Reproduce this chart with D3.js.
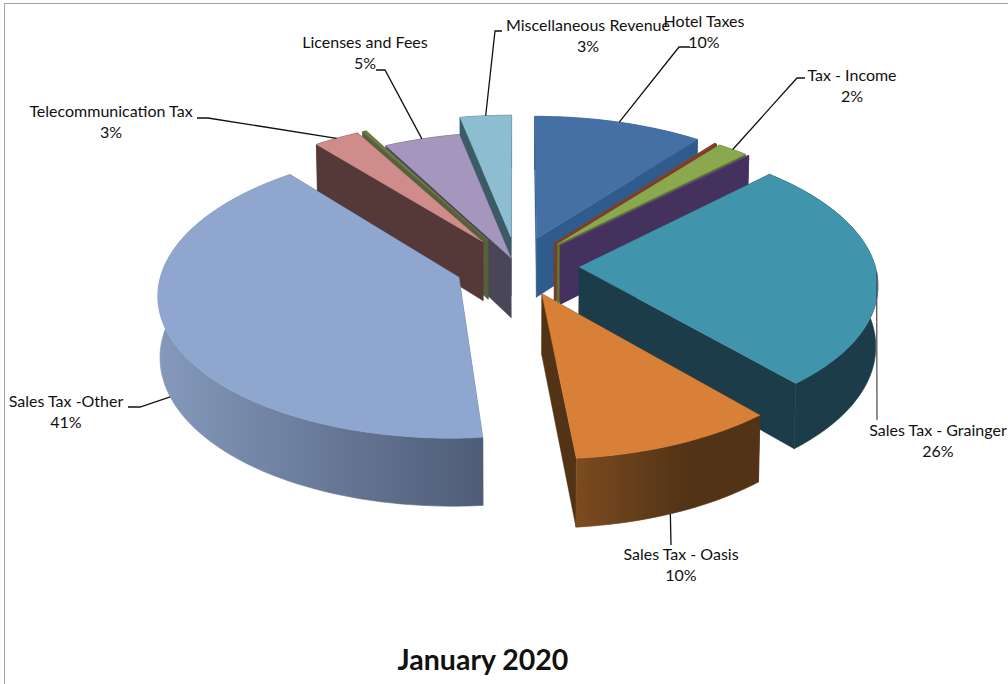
<!DOCTYPE html>
<html>
<head>
  <title>January 2020</title>
  <meta charset="utf-8" />
  <script src="https://cdn.jsdelivr.net/npm/d3@7"></script>
  <style>
  body { margin: 0; background: #fff; }
  text { font-family: Lato, "Open Sans", sans-serif; fill: #111; }
  </style>
</head>
<body>
  <script>
  // clockwise from 12 o'clock, the unnamed ones are the thin slivers in the picture
  var categories = ['Hotel Taxes', '', 'Tax - Income', '', 'Sales Tax - Grainger', 'Sales Tax - Oasis',
    'Sales Tax -Other', 'Telecommunication Tax', '', 'Licenses and Fees', 'Miscellaneous Revenue'];
  var values = [10.4, 0.15, 1.9, 0.05, 26.15, 9.88, 40.62, 2.85, 0.25, 4.6, 3.15];
  var explode = [.21, .21, .21, .21, .21, .21, .21, .21, .21, .06, .21];

  var topColors = ['#4470a6', '#8a3f2c', '#8aa84e', '#64498a', '#4095ac', '#d98038', '#8fa6ce', '#cf8c8a', '#6d7a48', '#a596bd', '#8cbdd0'];
  var wallLight = ['#2f5b8d', '#7c3c2a', '#5d7432', '#45315e', '#1b3c48', '#7c4b20', '#8499bc', '#553838', '#56603a', '#4a4658', '#3b5b67'];
  var wallDark = ['#2f5b8d', '#7c3c2a', '#5d7432', '#45315e', '#1b3c48', '#523316', '#4e5c76', '#553838', '#56603a', '#4a4658', '#3b5b67'];
  var wallStop = [1, 1, 1, 1, 1, .6, 1, 1, 1, 1, 1];

  // label centre, elbow of the leader, which rim the leader lands on
  var labelX = [704, 0, 852, 0, 938, 681, 66, 111, 0, 365, 588];
  var labelY = [22, 0, 76, 0, 431, 555, 402, 112, 0, 43, 26];
  var leaderStartX = [690, 0, 805, 0, 877, 671, 128, 197, 0, 376, 502];
  var leaderStartY = [47, 0, 78, 0, 420, 545, 407, 118, 0, 70, 31];
  var elbowX = [679, 0, 797, 0, 877, 671, 140, 208, 0, 385, 495];
  var elbowY = [47, 0, 78, 0, 420, 545, 407, 118, 0, 70, 31];
  var leaderOnBottom = [0, 0, 0, 0, 0, 1, 1, 0, 0, 0, 0];
  var leaderShift = [0, 0, 0, 0, 0, 1, 0, 0, 0, 0, 0]; // degrees

  var width = 1008, height = 684;
  var cx = 517, cy = 266, radiusX = 296, radiusY = 141, persp = .108, depth = 60;

  var svg = d3.select('body').append('svg')
    .attr('width', width)
    .attr('height', height)
    .style('display', 'block');

  var defs = svg.append('defs');

  // chart frame, only top and left are inside the crop
  svg.append('path').attr('d', 'M4.5,684V3.5H1008').attr('fill', 'none').attr('stroke', '#a3a3a3');

  var total = d3.sum(values);
  var arcs = d3.pie().sort(null)(values);

  // ground plane point to screen, z=1 is the underside of the pie
  function project(u, v, z) {
    var w = 1 / (1 - persp * v);
    var shrink = z ? .994 : 1;
    return [cx + radiusX * u * w * shrink, cy + radiusY * v * w + z * depth * w];
  }

  var line = d3.line();

  var slices = arcs.map(function(a, i) {
    var mid = (a.startAngle + a.endAngle) / 2;
    var ou = explode[i] * Math.sin(mid), ov = -explode[i] * Math.cos(mid);
    function rim(t, z) {
      return project(ou + Math.sin(t), ov - Math.cos(t), z);
    }
    var steps = Math.max(2, Math.ceil((a.endAngle - a.startAngle) * 40));
    var ts = d3.range(steps + 1).map(function(k) {
      return a.startAngle + (a.endAngle - a.startAngle) * k / steps;
    });
    return {
      i: i, mid: mid, rim: rim, ts: ts,
      apexTop: project(ou, ov, 0), apexBottom: project(ou, ov, 1)
    };
  });

  // back to front
  slices.sort(function(a, b) { return -Math.cos(a.mid) - -Math.cos(b.mid); });

  slices.forEach(function(s) {
    var i = s.i, first = s.ts[0], last = s.ts[s.ts.length - 1];
    var g = svg.append('g');

    var grad = defs.append('linearGradient').attr('id', 'wall' + i);
    grad.append('stop').attr('offset', 0).attr('stop-color', wallLight[i]);
    grad.append('stop').attr('offset', wallStop[i]).attr('stop-color', wallDark[i]);

    // the two cut faces
    [first, last].forEach(function(t) {
      g.append('path')
        .attr('d', line([s.apexTop, s.rim(t, 0), s.rim(t, 1), s.apexBottom]) + 'Z')
        .attr('fill', wallDark[i])
        .attr('stroke', wallDark[i])
        .attr('stroke-width', .4);
    });

    // outer wall
    var wall = s.ts.map(function(t) { return s.rim(t, 0); })
      .concat(s.ts.slice().reverse().map(function(t) { return s.rim(t, 1); }));
    g.append('path')
      .attr('d', line(wall) + 'Z')
      .attr('fill', 'url(#wall' + i + ')')
      .attr('stroke', 'url(#wall' + i + ')')
      .attr('stroke-width', .6);

    // top face
    var top = [s.apexTop].concat(s.ts.map(function(t) { return s.rim(t, 0); }));
    g.append('path')
      .attr('d', line(top) + 'Z')
      .attr('fill', topColors[i])
      .attr('stroke', topColors[i])
      .attr('stroke-width', .4);
  });

  // labels and leaders
  slices.forEach(function(s) {
    var i = s.i;
    if (!categories[i]) return;
    var anchor = s.rim(s.mid + leaderShift[i] * Math.PI / 180, leaderOnBottom[i]);
    var pts = [[leaderStartX[i], leaderStartY[i]], [elbowX[i], elbowY[i]], anchor];
    svg.append('path')
      .attr('d', line(pts))
      .attr('fill', 'none')
      .attr('stroke', i == 4 ? '#555' : '#111')
      .attr('stroke-width', 1.3);
    svg.append('text')
      .attr('x', labelX[i]).attr('y', labelY[i] + 5)
      .attr('text-anchor', 'middle')
      .attr('font-size', 16)
      .text(categories[i]);
    svg.append('text')
      .attr('x', labelX[i]).attr('y', labelY[i] + 26)
      .attr('text-anchor', 'middle')
      .attr('font-size', 16)
      .text(Math.round(values[i] / total * 100) + '%');
  });

  svg.append('text')
    .attr('x', 483).attr('y', 670)
    .attr('text-anchor', 'middle')
    .attr('font-size', 28.5)
    .attr('font-weight', 'bold')
    .text('January 2020');
  </script>
 </body>
</html>
